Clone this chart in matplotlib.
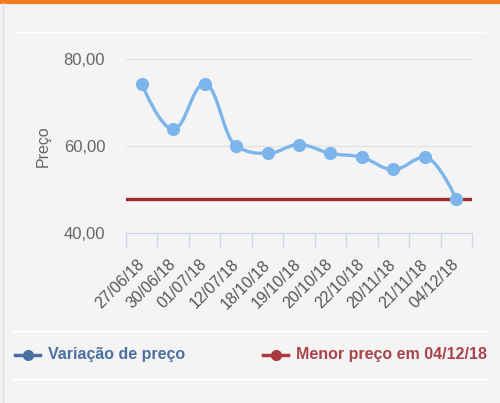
import numpy as np
import matplotlib.pyplot as plt
from matplotlib.path import Path
from matplotlib.patches import PathPatch
from matplotlib.lines import Line2D

plt.rcParams['font.family'] = ['Liberation Sans', 'DejaVu Sans']

# data
dates = ['27/06/18', '30/06/18', '01/07/18', '12/07/18', '18/10/18', '19/10/18',
         '20/10/18', '22/10/18', '20/11/18', '21/11/18', '04/12/18']
prices = [74.3, 63.8, 74.3, 60.0, 58.3, 60.3, 58.3, 57.4, 54.6, 57.4, 47.8]
lowest = 47.8
y_ticks = [40, 60, 80]
y_ticklabels = ['40,00', '60,00', '80,00']

BLUE = '#7cb5ec'
RED = '#9e2a2b'
BG = '#f4f4f4'


def spline_path(xs, ys, smoothing=1.5):
    # bezier spline like the one highcharts draws
    n = len(xs)
    left = [(xs[i], ys[i]) for i in range(n)]
    right = [(xs[i], ys[i]) for i in range(n)]
    denom = smoothing + 1
    for i in range(1, n - 1):
        x, y = xs[i], ys[i]
        lx, ly = xs[i - 1], ys[i - 1]
        nx_, ny = xs[i + 1], ys[i + 1]
        lcx = (smoothing * x + lx) / denom
        lcy = (smoothing * y + ly) / denom
        rcx = (smoothing * x + nx_) / denom
        rcy = (smoothing * y + ny) / denom
        if rcx != lcx:
            corr = (rcy - lcy) * (rcx - x) / (rcx - lcx) + y - rcy
            lcy += corr
            rcy += corr
        if lcy > max(ly, y):
            lcy = max(ly, y); rcy = 2 * y - lcy
        elif lcy < min(ly, y):
            lcy = min(ly, y); rcy = 2 * y - lcy
        if rcy > max(y, ny):
            rcy = max(y, ny); lcy = 2 * y - rcy
        elif rcy < min(y, ny):
            rcy = min(y, ny); lcy = 2 * y - rcy
        left[i] = (lcx, lcy)
        right[i] = (rcx, rcy)
    verts = [(xs[0], ys[0])]
    codes = [Path.MOVETO]
    for i in range(1, n):
        verts += [right[i - 1], left[i], (xs[i], ys[i])]
        codes += [Path.CURVE4] * 3
    return Path(verts, codes)


fig = plt.figure(figsize=(5, 4.03), dpi=100, facecolor=BG)
ax = fig.add_axes([0.252, 1 - 233 / 403, 0.692, 174 / 403])
ax.set_facecolor(BG)

x = np.arange(len(dates))
ax.axhline(lowest, color=RED, lw=2.4, zorder=2)
ax.add_patch(PathPatch(spline_path(x, prices), fill=False, edgecolor=BLUE, lw=2.4, zorder=3))
ax.plot(x, prices, 'o', color=BLUE, ms=8.5, zorder=4)

ax.set_xlim(-0.5, len(dates) - 0.5)
ax.set_ylim(40, 80)
ax.set_yticks(y_ticks)
ax.set_yticklabels(y_ticklabels, color='#666666', fontsize=12)
ax.tick_params(axis='y', length=0, pad=15)
for v in y_ticks[1:]:
    ax.axhline(v, color='#e3e3e3', lw=1, zorder=1)

ax.set_xticks(x)
ax.set_xticklabels(dates, rotation=45, ha='right', va='center',
                   rotation_mode='anchor', color='#555555', fontsize=11.5)
ax.tick_params(axis='x', length=0, pad=21)
ax.set_xticks(np.arange(-0.5, len(dates)), minor=True)
ax.tick_params(axis='x', which='minor', length=10, color='#ccd6eb', width=1)

for s in ['top', 'right', 'left']:
    ax.spines[s].set_visible(False)
ax.spines['bottom'].set_color('#ccd6eb')

ax.set_ylabel('Preço', color='#666666', fontsize=11.5, labelpad=9)

# frame decorations
fig.add_artist(Line2D([0, 1], [1 - 1.5 / 403] * 2, color='#f47b20', lw=3))
fig.add_artist(Line2D([16 / 500, 484 / 500], [1 - 32 / 403] * 2, color='#ffffff', lw=1))
fig.add_artist(Line2D([12 / 500, 488 / 500], [1 - 331 / 403] * 2, color='#ffffff', lw=1))
fig.add_artist(Line2D([12 / 500, 488 / 500], [1 - 379 / 403] * 2, color='#ffffff', lw=1))
fig.add_artist(Line2D([2.5 / 500] * 2, [0, 1 - 3 / 403], color='#dddddd', lw=1))

# legend
leg_y = 1 - 355 / 403
fig.add_artist(Line2D([15 / 500, 40 / 500], [leg_y] * 2, color='#4a6fa5', lw=2.5))
fig.add_artist(Line2D([27.5 / 500], [leg_y], color='#4a6fa5', marker='o', ms=7, lw=0))
fig.text(48 / 500, leg_y, 'Variação de preço', color='#4a6fa0', fontsize=11.5,
         fontweight='bold', va='center', ha='left')
fig.add_artist(Line2D([263 / 500, 288 / 500], [leg_y] * 2, color='#a83a3f', lw=2.5))
fig.add_artist(Line2D([275.5 / 500], [leg_y], color='#a83a3f', marker='o', ms=7, lw=0))
fig.text(296 / 500, leg_y, 'Menor preço em 04/12/18', color='#a8444a', fontsize=11.5,
         fontweight='bold', va='center', ha='left')

fig.savefig('out.png', dpi=100, facecolor=BG)
